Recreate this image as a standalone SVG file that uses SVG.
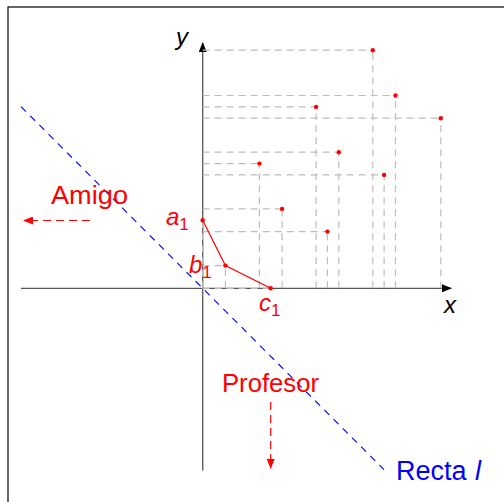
<svg xmlns="http://www.w3.org/2000/svg" width="504" height="502" viewBox="0 0 504 502">
<style>
.grid{stroke:#bdbdbd;stroke-width:1.2;stroke-dasharray:7 5;fill:none}
.axis{stroke:#555;stroke-width:1.3;fill:none}
.pt{fill:#ff0000}
.red{fill:#ff0000;font-family:"Liberation Sans",Arial,sans-serif}
.blue{fill:#0000ff;font-family:"Liberation Sans",Arial,sans-serif}
.lbl{fill:#000;font-family:"Liberation Sans",Arial,sans-serif;font-style:italic;font-size:24px}
</style>
<defs>
<marker id="ah" markerWidth="10" markerHeight="8" refX="9" refY="4" orient="auto" markerUnits="userSpaceOnUse">
<path d="M0,0 L10,4 L0,8 Z" fill="#000"/>
</marker>
<marker id="rh" markerWidth="10" markerHeight="8" refX="9" refY="4" orient="auto" markerUnits="userSpaceOnUse">
<path d="M0,0 L10,4 L0,8 Z" fill="#ff0000"/>
</marker>
</defs>
<rect x="8" y="7" width="530" height="530" fill="#fff" stroke="#000" stroke-width="1.2"/>
<g id="axes">
<line class="axis" x1="21" y1="288.3" x2="451" y2="288.3" marker-end="url(#ah)"/>
<line class="axis" x1="202.7" y1="470.5" x2="202.7" y2="43" marker-end="url(#ah)"/>
<text class="lbl" x="176" y="45">y</text>
<text class="lbl" x="444" y="313">x</text>
</g>
<g id="connectors">
<path class="grid" d="M202.7 50.2H372.8M372.8 288.3V50.2
M202.7 95.5H395.5M395.5 288.3V95.5
M202.7 106.9H316.1M316.1 288.3V106.9
M202.7 118.2H440.8M440.8 288.3V118.2
M202.7 152.2H338.8M338.8 288.3V152.2
M202.7 163.6H259.4M259.4 288.3V163.6
M202.7 174.9H384.1M384.1 288.3V174.9
M202.7 208.9H282.1M282.1 288.3V208.9
M202.7 231.6H327.4M327.4 288.3V231.6
M202.7 288.3V220.3
M202.7 265.6H225.4M225.4 288.3V265.6
M202.7 288.3H270.7"/>
<line x1="21" y1="106.6" x2="384" y2="469.6" stroke="#0000ff" stroke-width="1.1" stroke-dasharray="7 6"/>
<polyline points="202.7,220.3 225.4,265.6 270.7,288.3" fill="none" stroke="#ff0000" stroke-width="1.2"/>
<line x1="90" y1="220.5" x2="24" y2="220.5" stroke="#ff0000" stroke-width="1.2" stroke-dasharray="8 5" marker-end="url(#rh)"/>
<line x1="270.7" y1="402" x2="270.7" y2="468" stroke="#ff0000" stroke-width="1.2" stroke-dasharray="8 5" marker-end="url(#rh)"/>
</g>
<g id="points">
<circle class="pt" cx="372.8" cy="50.2" r="2.2"/>
<circle class="pt" cx="395.5" cy="95.5" r="2.2"/>
<circle class="pt" cx="316.1" cy="106.9" r="2.2"/>
<circle class="pt" cx="440.8" cy="118.2" r="2.2"/>
<circle class="pt" cx="338.8" cy="152.2" r="2.2"/>
<circle class="pt" cx="259.4" cy="163.6" r="2.2"/>
<circle class="pt" cx="384.1" cy="174.9" r="2.2"/>
<circle class="pt" cx="282.1" cy="208.9" r="2.2"/>
<circle class="pt" cx="327.4" cy="231.6" r="2.2"/>
</g>
<g id="a1"><circle class="pt" cx="202.7" cy="220.3" r="2.2"/><text class="red" x="166" y="225" font-size="24" font-style="italic">a<tspan font-size="17" font-style="normal" dy="5">1</tspan></text></g>
<g id="b1"><circle class="pt" cx="225.4" cy="265.6" r="2.2"/><text class="red" x="189" y="273" font-size="24" font-style="italic">b<tspan font-size="17" font-style="normal" dy="5">1</tspan></text></g>
<g id="c1"><circle class="pt" cx="270.7" cy="288.3" r="2.2"/><text class="red" x="259" y="311" font-size="24" font-style="italic">c<tspan font-size="17" font-style="normal" dy="5">1</tspan></text></g>
<g id="amigo"><text class="red" x="51" y="204" font-size="25" textLength="77" lengthAdjust="spacingAndGlyphs">Amigo</text></g>
<g id="profesor"><text class="red" x="222" y="392" font-size="25" textLength="97" lengthAdjust="spacingAndGlyphs">Profesor</text></g>
<g id="recta"><text class="blue" x="396" y="480" font-size="27">Recta<tspan x="475" font-style="italic">l</tspan></text></g>
</svg>
